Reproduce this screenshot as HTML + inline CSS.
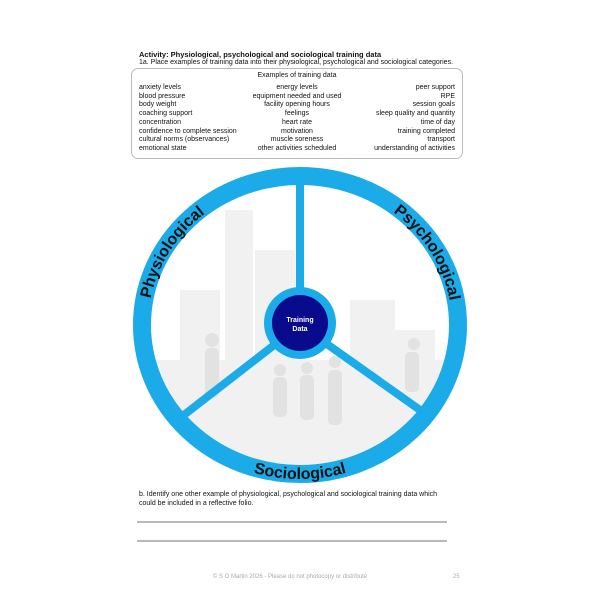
<!DOCTYPE html>
<html><head><meta charset="utf-8"><style>
html,body{margin:0;padding:0;background:#fff;}
body{width:600px;height:600px;position:relative;overflow:hidden;font-family:"Liberation Sans",sans-serif;color:#111;}
.t{position:absolute;white-space:nowrap;}
.box{position:absolute;left:131px;top:68px;width:330px;height:89px;border:1px solid #bbb;border-radius:7px;}
.row{position:absolute;left:139px;width:316px;font-size:7px;height:9px;}
.row span{position:absolute;top:0;}
.a{left:0}.b{left:0;width:316px;text-align:center}.c{right:0}
</style></head><body>
<div class="t" style="left:139px;top:50px;font-size:7.5px;font-weight:bold;">Activity: Physiological, psychological and sociological training data</div>
<div class="t" style="left:139px;top:59px;font-size:7px;">1a. Place examples of training data into their physiological, psychological and sociological categories.</div>
<div class="box"></div>
<div class="t" style="left:131px;width:332px;text-align:center;top:72px;font-size:7px;">Examples of training data</div>
<div class="row" style="top:84px"><span class="a">anxiety levels</span><span class="b">energy levels</span><span class="c">peer support</span></div>
<div class="row" style="top:92.7px"><span class="a">blood pressure</span><span class="b">equipment needed and used</span><span class="c">RPE</span></div>
<div class="row" style="top:101.4px"><span class="a">body weight</span><span class="b">facility opening hours</span><span class="c">session goals</span></div>
<div class="row" style="top:110.1px"><span class="a">coaching support</span><span class="b">feelings</span><span class="c">sleep quality and quantity</span></div>
<div class="row" style="top:118.8px"><span class="a">concentration</span><span class="b">heart rate</span><span class="c">time of day</span></div>
<div class="row" style="top:127.5px"><span class="a">confidence to complete session</span><span class="b">motivation</span><span class="c">training completed</span></div>
<div class="row" style="top:136.2px"><span class="a">cultural norms (observances)</span><span class="b">muscle soreness</span><span class="c">transport</span></div>
<div class="row" style="top:144.9px"><span class="a">emotional state</span><span class="b">other activities scheduled</span><span class="c">understanding of activities</span></div>

<svg width="600" height="600" style="position:absolute;left:0;top:0" xmlns="http://www.w3.org/2000/svg">
<defs>
<path id="p1" d="M 168.4 396.5 A 152 143 0 0 1 300 182"/>
<path id="p2" d="M 300 182 A 152 143 0 0 1 431.6 396.5"/>
<path id="p3" d="M 158.8 402 A 163 154 0 0 0 441.2 402"/>
<clipPath id="cc"><ellipse cx="300" cy="325" rx="150" ry="141"/></clipPath>
</defs>
<g clip-path="url(#cc)">
<g fill="#f1f1f1">
<rect x="225" y="210" width="28" height="200"/><rect x="180" y="290" width="40" height="120"/>
<rect x="255" y="250" width="40" height="160"/><rect x="350" y="300" width="45" height="110"/>
<rect x="395" y="330" width="40" height="80"/><rect x="140" y="360" width="320" height="120"/>
</g>
<g fill="#e2e2e2">
<circle cx="212" cy="340" r="7"/><rect x="205" y="348" width="14" height="50" rx="5"/>
<circle cx="280" cy="370" r="6"/><rect x="273" y="377" width="14" height="40" rx="5"/>
<circle cx="307" cy="368" r="6"/><rect x="300" y="375" width="14" height="45" rx="5"/>
<circle cx="335" cy="362" r="6"/><rect x="328" y="370" width="14" height="55" rx="5"/>
<circle cx="414" cy="344" r="6"/><rect x="405" y="352" width="14" height="40" rx="5"/>
</g>
</g>
<ellipse cx="300" cy="325" rx="158" ry="149" fill="none" stroke="#1aabe8" stroke-width="18"/>
<g stroke="#1aabe8" stroke-width="8">
<line x1="300" y1="170" x2="300" y2="295"/>
<line x1="300" y1="325" x2="180" y2="418"/>
<line x1="300" y1="325" x2="420" y2="410"/>
</g>
<circle cx="300" cy="323" r="36" fill="#1aabe8"/>
<circle cx="300" cy="323" r="28" fill="#0a0a8c"/>
<text x="300" y="322" font-size="7" font-weight="bold" fill="#fff" text-anchor="middle">Training</text>
<text x="300" y="331" font-size="7" font-weight="bold" fill="#fff" text-anchor="middle">Data</text>
<g font-size="16" font-weight="bold" fill="#111" font-family="Liberation Sans, sans-serif">
<text><textPath href="#p1" startOffset="50%" text-anchor="middle">Physiological</textPath></text>
<text><textPath href="#p2" startOffset="50%" text-anchor="middle">Psychological</textPath></text>
<text><textPath href="#p3" startOffset="50%" text-anchor="middle">Sociological</textPath></text>
</g>
<line x1="137" y1="522" x2="447" y2="522" stroke="#444" stroke-width="0.8"/>
<line x1="137" y1="541" x2="447" y2="541" stroke="#444" stroke-width="0.8"/>
</svg>
<div class="t" style="left:139px;top:491px;font-size:7px;">b. Identify one other example of physiological, psychological and sociological training data which</div>
<div class="t" style="left:139px;top:500px;font-size:7px;">could be included in a reflective folio.</div>
<div class="t" style="left:0;width:580px;text-align:center;top:574px;font-size:6px;color:#aaa;">© S O Martin 2026 - Please do not photocopy or distribute</div>
<div class="t" style="left:453px;top:574px;font-size:6px;color:#aaa;">25</div>
</body></html>
